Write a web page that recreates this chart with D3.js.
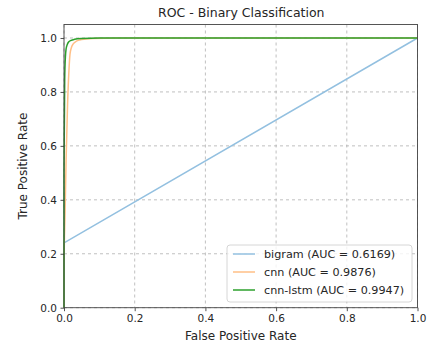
<!DOCTYPE html>
<html><head><meta charset="utf-8">
<script src="https://cdn.jsdelivr.net/npm/d3@7"></script>
<style>body{margin:0;background:#fff;}text{font-family:"DejaVu Sans",sans-serif;fill:#262626;}</style>
</head><body><svg id="c" width="427" height="347"></svg>
<script>
const seriesNames = ["bigram (AUC = 0.6169)", "cnn (AUC = 0.9876)", "cnn-lstm (AUC = 0.9947)"];
const seriesColors = ["#93c0e0", "#ffbf86", "#2ca02c"];
const bigramFpr = [0, 0, 1];
const bigramTpr = [0, 0.24, 1];
const cnnFpr = [0, 0, 0.003, 0.006, 0.01, 0.014, 0.017, 0.021, 0.026, 0.035, 0.05, 0.08, 0.15, 1];
const cnnTpr = [0, 0.15, 0.35, 0.55, 0.75, 0.88, 0.94, 0.965, 0.978, 0.988, 0.994, 0.998, 1, 1];
const lstmFpr = [0, 0, 0.002, 0.004, 0.006, 0.009, 0.013, 0.02, 0.03, 0.05, 0.1, 1];
const lstmTpr = [0, 0.5, 0.85, 0.93, 0.96, 0.975, 0.985, 0.991, 0.995, 0.998, 1, 1];
const xTicks = [0, 0.2, 0.4, 0.6, 0.8, 1.0];
const yTicks = [0, 0.2, 0.4, 0.6, 0.8, 1.0];

const svg = d3.select("#c");
const L = 64, R = 417.5, T = 24.5, B = 307.7;
const x = d3.scaleLinear().domain([0, 1]).range([L, R]);
const y = d3.scaleLinear().domain([0, 1.05]).range([B, T]);

// grid
svg.append("g").selectAll("line").data(xTicks).join("line")
  .attr("x1", d => x(d)).attr("x2", d => x(d)).attr("y1", T).attr("y2", B)
  .attr("stroke", "#b0b0b0").attr("stroke-width", 0.8).attr("stroke-dasharray", "3,3");
svg.append("g").selectAll("line").data(yTicks).join("line")
  .attr("x1", L).attr("x2", R).attr("y1", d => y(d)).attr("y2", d => y(d))
  .attr("stroke", "#b0b0b0").attr("stroke-width", 0.8).attr("stroke-dasharray", "3,3");

const line = d3.line().x(d => x(d[0])).y(d => y(d[1]));
const data = [
  d3.zip(bigramFpr, bigramTpr),
  d3.zip(cnnFpr, cnnTpr),
  d3.zip(lstmFpr, lstmTpr)
];
data.forEach((pts, i) => {
  svg.append("path").attr("d", (i === 0 ? line : line.curve(d3.curveMonotoneX))(pts))
    .attr("fill", "none").attr("stroke", seriesColors[i]).attr("stroke-width", 1.5);
});

// axes
const xa = svg.append("g").attr("transform", `translate(0,${B})`)
  .call(d3.axisBottom(x).tickValues(xTicks).tickFormat(d3.format(".1f")).tickSize(3.5).tickPadding(3.5));
const ya = svg.append("g").attr("transform", `translate(${L},0)`)
  .call(d3.axisLeft(y).tickValues(yTicks).tickFormat(d3.format(".1f")).tickSize(3.5).tickPadding(3.5));
[xa, ya].forEach(a => {
  a.select(".domain").remove();
  a.selectAll("line").attr("stroke", "#262626").attr("stroke-width", 0.8);
  a.selectAll("text").attr("font-size", 10.5).attr("fill", "#262626").attr("font-family", "DejaVu Sans");
});
svg.append("rect").attr("x", L).attr("y", T).attr("width", R - L).attr("height", B - T)
  .attr("fill", "none").attr("stroke", "#444").attr("stroke-width", 0.9);

svg.append("text").attr("x", (L + R) / 2 + 0.5).attr("y", 17).attr("text-anchor", "middle").attr("font-size", 12.5).text("ROC - Binary Classification");
svg.append("text").attr("x", (L + R) / 2).attr("y", 340).attr("text-anchor", "middle").attr("font-size", 12).text("False Positive Rate");
svg.append("text").attr("transform", `translate(27,${(T + B) / 2}) rotate(-90)`).attr("text-anchor", "middle").attr("font-size", 12).text("True Positive Rate");

// legend
const lg = svg.append("g");
lg.append("rect").attr("x", 227).attr("y", 245).attr("width", 185).attr("height", 57).attr("rx", 3)
  .attr("fill", "#fff").attr("fill-opacity", 0.8).attr("stroke", "#cccccc").attr("stroke-width", 0.8);
seriesNames.forEach((n, i) => {
  const yy = 254 + i * 18;
  lg.append("line").attr("x1", 233).attr("x2", 255).attr("y1", yy).attr("y2", yy)
    .attr("stroke", seriesColors[i]).attr("stroke-width", 1.5);
  lg.append("text").attr("x", 264).attr("y", yy + 4).attr("font-size", 11.2).text(n);
});
</script></body></html>
